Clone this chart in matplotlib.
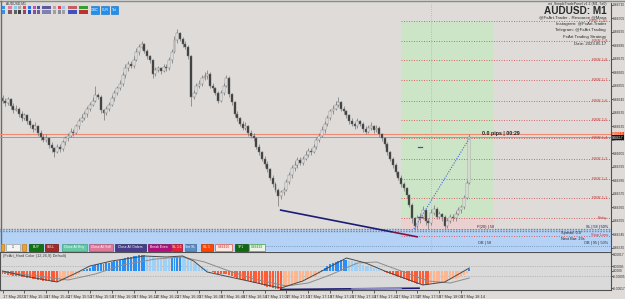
import matplotlib
matplotlib.use("Agg")
import matplotlib.pyplot as plt
from matplotlib.patches import Rectangle

plt.rcParams['font.family'] = ['Liberation Sans', 'DejaVu Sans']

W, H, DPI = 625, 299, 100

# ---------------- data (AUDUSD M1) ----------------
opens = [
 0.66646, 0.66644, 0.66642, 0.66645, 0.66640, 0.66637, 0.66638, 0.66634, 0.66631, 0.66633,
 0.66629, 0.66626, 0.66623, 0.66625, 0.66620, 0.66617, 0.66615, 0.66616, 0.66611, 0.66609,
 0.66606, 0.66610, 0.66608, 0.66613, 0.66616, 0.66618, 0.66621, 0.66620, 0.66625, 0.66629,
 0.66631, 0.66634, 0.66638, 0.66641, 0.66644, 0.66648, 0.66647, 0.66637, 0.66635, 0.66638,
 0.66641, 0.66646, 0.66650, 0.66653, 0.66656, 0.66663, 0.66668, 0.66671, 0.66670, 0.66674,
 0.66680, 0.66684, 0.66686, 0.66681, 0.66677, 0.66674, 0.66664, 0.66667, 0.66668, 0.66666,
 0.66669, 0.66668, 0.66674, 0.66680, 0.66689, 0.66694, 0.66690, 0.66686, 0.66684, 0.66677,
 0.66647, 0.66650, 0.66655, 0.66656, 0.66661, 0.66662, 0.66664, 0.66655, 0.66653, 0.66650,
 0.66644, 0.66650, 0.66655, 0.66661, 0.66649, 0.66643, 0.66634, 0.66631, 0.66627, 0.66624,
 0.66625, 0.66620, 0.66618, 0.66616, 0.66610, 0.66606, 0.66601, 0.66597, 0.66593, 0.66587,
 0.66582, 0.66578, 0.66573, 0.66576, 0.66578, 0.66584, 0.66589, 0.66594, 0.66596, 0.66600,
 0.66598, 0.66601, 0.66604, 0.66607, 0.66606, 0.66610, 0.66615, 0.66618, 0.66622, 0.66627,
 0.66631, 0.66636, 0.66638, 0.66641, 0.66643, 0.66638, 0.66636, 0.66633, 0.66629, 0.66627,
 0.66625, 0.66629, 0.66627, 0.66623, 0.66621, 0.66624, 0.66625, 0.66622, 0.66624, 0.66619,
 0.66616, 0.66612, 0.66606, 0.66601, 0.66596, 0.66591, 0.66587, 0.66582, 0.66579, 0.66574,
 0.66567, 0.66557, 0.66551, 0.66557, 0.66558, 0.66563, 0.66555, 0.66553, 0.66561, 0.66564,
 0.66558, 0.66560, 0.66558, 0.66551, 0.66555, 0.66558, 0.66557, 0.66560, 0.66563, 0.66565,
 0.66572, 0.66583]

closes = [
 0.66644, 0.66642, 0.66645, 0.66640, 0.66637, 0.66638, 0.66634, 0.66631, 0.66633, 0.66629,
 0.66626, 0.66623, 0.66625, 0.66620, 0.66617, 0.66615, 0.66616, 0.66611, 0.66609, 0.66606,
 0.66610, 0.66608, 0.66613, 0.66616, 0.66618, 0.66621, 0.66620, 0.66625, 0.66629, 0.66631,
 0.66634, 0.66638, 0.66641, 0.66644, 0.66648, 0.66647, 0.66637, 0.66635, 0.66638, 0.66641,
 0.66646, 0.66650, 0.66653, 0.66656, 0.66663, 0.66668, 0.66671, 0.66670, 0.66674, 0.66680,
 0.66684, 0.66686, 0.66681, 0.66677, 0.66674, 0.66664, 0.66667, 0.66668, 0.66666, 0.66669,
 0.66668, 0.66674, 0.66680, 0.66689, 0.66694, 0.66690, 0.66686, 0.66684, 0.66677, 0.66647,
 0.66650, 0.66655, 0.66656, 0.66661, 0.66662, 0.66664, 0.66655, 0.66653, 0.66650, 0.66644,
 0.66650, 0.66655, 0.66661, 0.66649, 0.66643, 0.66634, 0.66631, 0.66627, 0.66624, 0.66625,
 0.66620, 0.66618, 0.66616, 0.66610, 0.66606, 0.66601, 0.66597, 0.66593, 0.66587, 0.66582,
 0.66578, 0.66573, 0.66576, 0.66578, 0.66584, 0.66589, 0.66594, 0.66596, 0.66600, 0.66598,
 0.66601, 0.66604, 0.66607, 0.66606, 0.66610, 0.66615, 0.66618, 0.66622, 0.66627, 0.66631,
 0.66636, 0.66638, 0.66641, 0.66643, 0.66638, 0.66636, 0.66633, 0.66629, 0.66627, 0.66625,
 0.66629, 0.66627, 0.66623, 0.66621, 0.66624, 0.66625, 0.66622, 0.66624, 0.66619, 0.66616,
 0.66612, 0.66606, 0.66601, 0.66596, 0.66591, 0.66587, 0.66582, 0.66579, 0.66574, 0.66567,
 0.66557, 0.66551, 0.66557, 0.66558, 0.66563, 0.66555, 0.66553, 0.66561, 0.66564, 0.66558,
 0.66560, 0.66558, 0.66551, 0.66555, 0.66558, 0.66557, 0.66560, 0.66563, 0.66565, 0.66572,
 0.66583, 0.66617]

highs = [
 0.66648, 0.66646, 0.66647, 0.66646, 0.66642, 0.66641, 0.66639, 0.66636, 0.66635, 0.66634,
 0.66631, 0.66627, 0.66628, 0.66626, 0.66622, 0.66619, 0.66619, 0.66617, 0.66613, 0.66610,
 0.66612, 0.66612, 0.66615, 0.66618, 0.66620, 0.66624, 0.66623, 0.66627, 0.66631, 0.66634,
 0.66636, 0.66640, 0.66643, 0.66647, 0.66655, 0.66650, 0.66648, 0.66638, 0.66640, 0.66643,
 0.66648, 0.66652, 0.66655, 0.66659, 0.66665, 0.66671, 0.66673, 0.66673, 0.66677, 0.66683,
 0.66686, 0.66688, 0.66687, 0.66682, 0.66678, 0.66675, 0.66669, 0.66670, 0.66669, 0.66671,
 0.66671, 0.66676, 0.66682, 0.66692, 0.66697, 0.66695, 0.66691, 0.66688, 0.66685, 0.66678,
 0.66652, 0.66657, 0.66659, 0.66663, 0.66665, 0.66667, 0.66665, 0.66657, 0.66654, 0.66651,
 0.66652, 0.66657, 0.66663, 0.66662, 0.66650, 0.66644, 0.66636, 0.66632, 0.66629, 0.66628,
 0.66626, 0.66622, 0.66620, 0.66617, 0.66612, 0.66607, 0.66603, 0.66599, 0.66594, 0.66589,
 0.66584, 0.66579, 0.66578, 0.66580, 0.66586, 0.66591, 0.66596, 0.66599, 0.66602, 0.66602,
 0.66603, 0.66607, 0.66609, 0.66609, 0.66612, 0.66617, 0.66620, 0.66625, 0.66629, 0.66633,
 0.66638, 0.66641, 0.66644, 0.66647, 0.66644, 0.66640, 0.66637, 0.66634, 0.66631, 0.66628,
 0.66631, 0.66630, 0.66628, 0.66625, 0.66626, 0.66628, 0.66626, 0.66626, 0.66625, 0.66620,
 0.66617, 0.66613, 0.66607, 0.66602, 0.66598, 0.66592, 0.66589, 0.66584, 0.66580, 0.66575,
 0.66568, 0.66558, 0.66559, 0.66561, 0.66566, 0.66564, 0.66557, 0.66564, 0.66567, 0.66565,
 0.66562, 0.66561, 0.66559, 0.66557, 0.66560, 0.66560, 0.66562, 0.66565, 0.66567, 0.66574,
 0.66585, 0.66619]

lows = [
 0.66642, 0.66640, 0.66641, 0.66638, 0.66635, 0.66636, 0.66632, 0.66629, 0.66630, 0.66627,
 0.66624, 0.66621, 0.66622, 0.66618, 0.66615, 0.66613, 0.66613, 0.66609, 0.66606, 0.66602,
 0.66605, 0.66606, 0.66607, 0.66611, 0.66614, 0.66617, 0.66618, 0.66619, 0.66623, 0.66628,
 0.66630, 0.66632, 0.66636, 0.66640, 0.66643, 0.66645, 0.66635, 0.66630, 0.66633, 0.66636,
 0.66640, 0.66644, 0.66648, 0.66652, 0.66655, 0.66661, 0.66666, 0.66668, 0.66668, 0.66673,
 0.66678, 0.66682, 0.66679, 0.66675, 0.66672, 0.66661, 0.66662, 0.66665, 0.66664, 0.66665,
 0.66666, 0.66667, 0.66672, 0.66679, 0.66687, 0.66688, 0.66684, 0.66682, 0.66675, 0.66640,
 0.66645, 0.66649, 0.66653, 0.66655, 0.66659, 0.66660, 0.66653, 0.66651, 0.66648, 0.66642,
 0.66643, 0.66648, 0.66654, 0.66647, 0.66641, 0.66632, 0.66629, 0.66625, 0.66622, 0.66622,
 0.66618, 0.66616, 0.66614, 0.66608, 0.66604, 0.66599, 0.66595, 0.66591, 0.66585, 0.66580,
 0.66576, 0.66566, 0.66571, 0.66574, 0.66577, 0.66582, 0.66587, 0.66592, 0.66594, 0.66596,
 0.66596, 0.66600, 0.66602, 0.66604, 0.66605, 0.66608, 0.66613, 0.66617, 0.66620, 0.66625,
 0.66630, 0.66634, 0.66637, 0.66639, 0.66636, 0.66634, 0.66631, 0.66627, 0.66625, 0.66623,
 0.66624, 0.66625, 0.66621, 0.66619, 0.66620, 0.66622, 0.66620, 0.66621, 0.66617, 0.66614,
 0.66610, 0.66604, 0.66599, 0.66594, 0.66589, 0.66585, 0.66580, 0.66577, 0.66572, 0.66565,
 0.66553, 0.66548, 0.66549, 0.66553, 0.66556, 0.66552, 0.66549, 0.66552, 0.66559, 0.66556,
 0.66556, 0.66555, 0.66549, 0.66550, 0.66553, 0.66555, 0.66555, 0.66559, 0.66561, 0.66564,
 0.66571, 0.66582]

# MACD-style histogram (FxArt Hard Color 12,26,9)
hist = [
 -0.00003, -0.00003, -0.00004, -0.00004, -0.00005, -0.00005, -0.00005, -0.00006, -0.00006, -0.00007,
 -0.00007, -0.00008, -0.00008, -0.00009, -0.00009, -0.00010, -0.00010, -0.00010, -0.00011, -0.00011,
 -0.00011, -0.00010, -0.00010, -0.00009, -0.00008, -0.00007, -0.00006, -0.00004, -0.00003, -0.00001,
 0.00001, 0.00002, 0.00003, 0.00005, 0.00006, 0.00007, 0.00007, 0.00007, 0.00008, 0.00008,
 0.00009, 0.00010, 0.00010, 0.00011, 0.00012, 0.00013, 0.00014, 0.00014, 0.00015, 0.00015,
 0.00016, 0.00016, 0.00016, 0.00015, 0.00015, 0.00014, 0.00013, 0.00013, 0.00012, 0.00012,
 0.00012, 0.00012, 0.00013, 0.00013, 0.00014, 0.00014, 0.00013, 0.00013, 0.00012, 0.00010,
 0.00008, 0.00007, 0.00005, 0.00004, 0.00003, 0.00002, 0.00000, -0.00001, -0.00002, -0.00003,
 -0.00003, -0.00003, -0.00003, -0.00004, -0.00005, -0.00006, -0.00007, -0.00008, -0.00009, -0.00009,
 -0.00010, -0.00011, -0.00012, -0.00012, -0.00013, -0.00014, -0.00015, -0.00016, -0.00016, -0.00017,
 -0.00018, -0.00018, -0.00018, -0.00017, -0.00016, -0.00015, -0.00014, -0.00013, -0.00012, -0.00011,
 -0.00010, -0.00009, -0.00008, -0.00007, -0.00006, -0.00005, -0.00003, 0.00001, 0.00003, 0.00005,
 0.00007, 0.00008, 0.00009, 0.00010, 0.00011, 0.00011, 0.00011, 0.00010, 0.00010, 0.00009,
 0.00008, 0.00007, 0.00006, 0.00005, 0.00004, 0.00004, 0.00003, 0.00002, 0.00001, 0.00000,
 -0.00001, -0.00002, -0.00003, -0.00004, -0.00005, -0.00006, -0.00007, -0.00008, -0.00009, -0.00010,
 -0.00011, -0.00012, -0.00013, -0.00013, -0.00014, -0.00014, -0.00014, -0.00013, -0.00013, -0.00012,
 -0.00012, -0.00011, -0.00011, -0.00010, -0.00009, -0.00008, -0.00008, -0.00007, -0.00006, -0.00004,
 -0.00002, 0.00002]

line_a_idx = [0, 8, 20, 27, 32, 40, 52, 60, 66, 70, 75, 85, 95, 102, 110, 117, 126, 133, 140, 148, 154, 162, 171]
line_a_val = [0.0, -0.00005, -0.00011, -0.00002, 0.00005, 0.00010, 0.00015, 0.00014, 0.00015, 0.00010,
              -0.00001, -0.00007, -0.00013, -0.00017, -0.00010, 0.0, 0.00013, 0.00008, 0.0, -0.00008,
              -0.00014, -0.00011, 0.00003]
line_b_idx = [0, 10, 24, 34, 44, 56, 66, 74, 82, 92, 104, 112, 120, 130, 137, 146, 156, 164, 171]
line_b_val = [-0.00001, -0.00004, -0.00009, -0.00003, 0.00006, 0.00012, 0.00014, 0.00009, 0.00001, -0.00008,
              -0.00015, -0.00012, -0.00004, 0.00008, 0.00009, 0.0, -0.00010, -0.00012, -0.00007]
div_idx = [101.6, 152.9]
div_val = [-0.000185, -0.000172]

price_ticks = [0.66715, 0.66705, 0.66695, 0.66685, 0.66675, 0.66665, 0.66655, 0.66645, 0.66635, 0.66625,
               0.66615, 0.66605, 0.66595, 0.66585, 0.66575, 0.66565, 0.66555, 0.66545, 0.66535]
ind_ticks = [0.00017, 0.00005, 0.0, -0.00005, -0.00017]
ind_tick_labels = ['0.00017', '0.00005', '0.0000', '-0.00005', '-0.00017']

time_tick_idx = [0, 8, 16, 24, 32, 40, 48, 56, 64, 72, 80, 88, 96, 104, 112, 120, 128, 136, 144, 152, 160, 168]
time_labels = ['17 May 2023', '17 May 15:34', '17 May 15:42', '17 May 15:50', '17 May 15:58', '17 May 16:06',
               '17 May 16:14', '17 May 16:22', '17 May 16:30', '17 May 16:38', '17 May 16:46', '17 May 16:54',
               '17 May 17:02', '17 May 17:10', '17 May 17:18', '17 May 17:26', '17 May 17:34', '17 May 17:42',
               '17 May 17:50', '17 May 17:58', '17 May 18:06', '17 May 18:14']

ask, bid = 0.66619, 0.66617
box_start, box_end, box_mid = 146, 180, 157
sl_price, entry_price, tp_price = 0.66549, 0.66557, 0.66703
rr_levels = [0.66557, 0.66572, 0.66586, 0.66601, 0.66616, 0.66630, 0.66644, 0.66659, 0.66674, 0.66688, 0.66703]
rr_labels = ['Entry', 'RRR 1:1', 'RRR 1:2', 'RRR 1:3', 'RRR 1:4', 'RRR 1:5', 'RRR 1:6', 'RRR 1:7', 'RRR 1:8',
             'RRR 1:9', 'RRR 1:10']
trend_idx = [101.6, 143, 152.2]
trend_price = [0.66563, 0.665466, 0.66543]
proj_idx = [150.7, 171]
proj_price = [0.66549, 0.66616]
sl_line_price = 0.665437

XMIN, XMAX = -0.916, 222.9
P_BOT, P_TOP = 0.665326, 0.667163


def frac(x0, y0, x1, y1):
    return [x0 / W, 1 - y1 / H, (x1 - x0) / W, (y1 - y0) / H]


fig = plt.figure(figsize=(W / DPI, H / DPI), dpi=DPI)
fig.patch.set_facecolor('#dedbd8')

# ---------- background layer (pixel coords) ----------
bg = fig.add_axes([0, 0, 1, 1], zorder=0)
bg.set_xlim(0, W); bg.set_ylim(H, 0); bg.axis('off')
bg.add_patch(Rectangle((0, 229), 611, 22, color='#b3d2f5', lw=0))
bg.plot([0, 611], [229.4, 229.4], color='#7c838c', lw=1.0, ls=(0, (1, 1)))
bg.plot([0, 611], [231.4, 231.4], color='#7c838c', lw=1.0, ls=(0, (1, 1)))
bg.plot([0, 625], [1.0, 1.0], color='#8a8a8a', lw=1.0)
bg.plot([0.5, 0.5], [1, 290], color='#6a6a6a', lw=1.0)

# ---------- main price chart ----------
ax = fig.add_axes(frac(0, 3, 611, 251), zorder=2)
ax.patch.set_alpha(0)
ax.set_xlim(XMIN, XMAX)
ax.set_ylim(P_BOT, P_TOP)

ax.add_patch(Rectangle((box_start, entry_price), box_end - box_start, tp_price - entry_price,
                       color='#cde5c7', lw=0, zorder=1))
ax.add_patch(Rectangle((box_start, sl_price), box_end - box_start, entry_price - sl_price,
                       color='#ead0cf', lw=0, zorder=1))
ax.axvline(box_mid, color='#9cc49a', lw=0.6, ls=(0, (1, 1.5)), zorder=1.5)

ax.hlines(rr_levels, box_start, XMAX, colors='#d25a5a', lw=0.6, linestyles=(0, (1.2, 1.8)), zorder=2)
for lv, lb in zip(rr_levels, rr_labels):
    ax.text(221.4, lv, lb, ha='right', va='center', fontsize=2.9, color='#c83c3c', zorder=6)
ax.hlines([sl_line_price], box_start, XMAX, colors='#d25a5a', lw=0.6, linestyles=(0, (1.2, 1.8)), zorder=2)
ax.hlines([0.665363], 96.2, XMAX, colors='#7088b0', lw=0.6, linestyles=(0, (1, 1.5)), zorder=2)

ax.axhline(ask, color='#f28a72', lw=0.8, zorder=2.5)
ax.axhline(bid, color='#9c9c9c', lw=0.7, zorder=2.5)

idx = list(range(len(closes)))
ax.vlines(idx, lows, highs, color='#7e7e7e', lw=0.55, zorder=3)
heights = [c - o if abs(c - o) > 1e-9 else 0.000003 for o, c in zip(opens, closes)]
body_cols = ['#f7f7f7' if c >= o else '#333333' for o, c in zip(opens, closes)]
ax.bar(idx, heights, bottom=opens, width=0.72, color=body_cols, edgecolor='#777777', lw=0.35, zorder=4)

ax.plot(trend_idx[:2], trend_price[:2], color='#1c1c78', lw=1.2, zorder=5, solid_capstyle='butt')
ax.plot(trend_idx[1:], trend_price[1:], color='#8a1048', lw=1.2, zorder=5, solid_capstyle='butt')
ax.plot(proj_idx, proj_price, color='#4a66e0', lw=0.8, ls=(0, (1, 1.3)), zorder=5)
ax.plot([152.3, 153.7], [0.66558, 0.66558], color='#3050d0', lw=0.9, zorder=5)
ax.plot([152.3, 153.7], [0.66610, 0.66610], color='#3050d0', lw=0.9, zorder=5)

ax.text(175.5, 0.666200, '0.0 pips | 00:29', fontsize=3.8, fontweight='bold', color='#202020',
        ha='left', va='center', zorder=6)

ax.yaxis.tick_right()
ax.set_yticks(price_ticks)
ax.set_yticklabels([f'{p:.5f}' for p in price_ticks])
ax.tick_params(axis='y', labelsize=2.45, length=1.2, width=0.5, pad=0.4, colors='#303030')
ax.set_xticks([])
for s in ['top', 'left', 'bottom']:
    ax.spines[s].set_visible(False)
ax.spines['right'].set_color('#505050'); ax.spines['right'].set_linewidth(0.8)

ytr = ax.get_yaxis_transform()
ax.text(1.002, ask + 0.000001, f'{ask:.5f}', transform=ytr, fontsize=2.35, color='white', ha='left', va='center',
        clip_on=False, zorder=7, bbox=dict(boxstyle='square,pad=0.2', fc='#f0501e', ec='none'))
ax.text(1.002, bid - 0.0000045, f'{bid:.5f}', transform=ytr, fontsize=2.35, color='white', ha='left', va='center',
        clip_on=False, zorder=7, bbox=dict(boxstyle='square,pad=0.2', fc='#111111', ec='none'))

# ---------- indicator panel ----------
ind = fig.add_axes(frac(0, 252, 611, 290), zorder=2)
ind.set_facecolor('#dadada')
ind.set_xlim(XMIN, XMAX)
ind.set_ylim(-0.00019, 0.00019)
cols = []
prev_col = None
for i, h in enumerate(hist):
    p = hist[i - 1] if i > 0 else h
    if h >= 0:
        if h > p: c = '#2b8ef2'
        elif h < p: c = '#9ed0f8'
        else: c = prev_col if prev_col in ('#2b8ef2', '#9ed0f8') else '#2b8ef2'
    else:
        if h < p: c = '#ff5b36'
        elif h > p: c = '#ffb590'
        else: c = prev_col if prev_col in ('#ff5b36', '#ffb590') else '#ff5b36'
    cols.append(c); prev_col = c
ind.bar(idx, hist, width=0.72, color=cols, lw=0, zorder=2)
ind.axhline(0.00005, color='#9a9a9a', lw=0.5, ls=(0, (1, 1.5)), zorder=1)
ind.axhline(-0.00005, color='#9a9a9a', lw=0.5, ls=(0, (1, 1.5)), zorder=1)
ind.plot(line_b_idx, line_b_val, color='#8c8c8c', lw=0.7, zorder=3)
ind.plot(line_a_idx, line_a_val, color='#4a4a4a', lw=0.7, zorder=3)
ind.plot(div_idx, div_val, color='#1c1c78', lw=1.2, zorder=4, solid_capstyle='butt')
ind.plot([128, 146], [-0.0001785, -0.0001735], color='#8c8cc8', lw=1.0, zorder=4)
ind.text(0.005, 0.96, '(FxArt_Hard Color (12,26,9) Default)', transform=ind.transAxes, fontsize=2.8,
         color='#404040', va='top', ha='left')
ind.yaxis.tick_right()
ind.set_yticks(ind_ticks)
ind.set_yticklabels(ind_tick_labels)
ind.tick_params(axis='y', labelsize=2.3, length=1.2, width=0.5, pad=0.4, colors='#303030')
ind.set_xticks(time_tick_idx)
ind.set_xticklabels(time_labels, ha='left')
ind.tick_params(axis='x', labelsize=2.75, length=2.5, width=0.5, pad=0.8, colors='#303030')
for s in ind.spines.values():
    s.set_color('#505050'); s.set_linewidth(0.8)

# ---------- overlay (pixel coords): panel, buttons, captions ----------
ov = fig.add_axes([0, 0, 1, 1], zorder=6)
ov.set_xlim(0, W); ov.set_ylim(H, 0); ov.axis('off'); ov.patch.set_alpha(0)

buttons = [
    (1, 4, '#f0a030', '#c08020', '', 'w'),
    (6, 20, '#f4f4f4', '#a0a0a0', '1', '#202020'),
    (22, 26, '#f0a030', '#c08020', '', 'w'),
    (29, 43, '#137313', '#0a4a0a', 'BUY', 'w'),
    (44.5, 58, '#a52a2a', '#701010', 'SELL', 'w'),
    (62, 87, '#66c9a6', '#40a080', 'Close All Buy', 'w'),
    (89, 113, '#e0789a', '#b05070', 'Close All Sell', 'w'),
    (115, 146, '#483d8b', '#302860', 'Close All Orders', 'w'),
    (148, 170.5, '#b0107a', '#800a58', 'Break Even', 'w'),
    (171.5, 182, '#e8203c', '#a01020', 'SL 1:1', 'w'),
    (184.5, 196, '#5b8cc4', '#3a6a9a', 'Set SL', 'w'),
    (200.5, 212.5, '#ff4500', '#c03000', 'SL 1', 'w'),
    (215, 232, '#fbe9e0', '#e05050', '0.66410', '#c03030'),
    (234.5, 248, '#0f6a0f', '#0a4a0a', 'TP1', 'w'),
    (249, 265, '#eaf4e6', '#40a040', '0.66419', '#308030'),
]
for x0, x1, fc, ec, t, tc in buttons:
    ov.add_patch(Rectangle((x0, 244), x1 - x0, 6.5, fc=fc, ec=ec, lw=0.5))
    if t:
        ov.text((x0 + x1) / 2, 247.4, t, fontsize=2.4, color=tc, ha='center', va='center')

ov.text(477, 226.8, 'P(20) | 58', fontsize=2.8, color='#303030', ha='left', va='center')
ov.text(608, 226.8, 'SL | 58 | 50%', fontsize=2.7, color='#202020', ha='right', va='center',
        bbox=dict(boxstyle='square,pad=0.15', fc='#d8d8e0', ec='none'))
ov.text(561, 233.0, 'Spread: 0.0', fontsize=2.8, color='#202020', ha='left', va='center')
ov.text(561, 239.0, 'Next Bar: 29s', fontsize=2.8, color='#202020', ha='left', va='center')
ov.text(608, 235.0, 'Stop Loss', fontsize=2.8, color='#d03030', ha='right', va='center')
ov.text(478, 243.0, 'OB | 58', fontsize=2.8, color='#303030', ha='left', va='center')
ov.text(608, 243.0, 'OB | 95 | 50%', fontsize=2.8, color='#303030', ha='right', va='center')

# top-right info block
ov.text(606, 3.6, 'mt_SimpleTradePanel v1.2 (M1, 5s0)', fontsize=2.5, color='#303030', ha='right', va='center')
ov.text(607, 10.6, 'AUDUSD: M1', fontsize=7.2, fontweight='bold', color='#2a2a2a', ha='right', va='center')
ov.text(606, 17.2, '@FxArt.Trader - Resource @Masa', fontsize=3.2, color='#303030', ha='right', va='center')
ov.text(606, 23.7, 'Instagram: @FxArt.Trader', fontsize=3.2, color='#303030', ha='right', va='center')
ov.text(606, 30.2, 'Telegram: @FxArt.Trading', fontsize=3.2, color='#303030', ha='right', va='center')
ov.text(606, 36.6, 'FxArt Trading Strategy', fontsize=3.2, color='#303030', ha='right', va='center')
ov.text(606, 44.4, 'Date: 2023.05.17', fontsize=3.1, color='#303030', ha='right', va='center')

# top-left toolbar
ov.text(6, 3.4, 'AUDUSD,M1', fontsize=2.4, color='#303030', ha='left', va='center')
icons = [
    (2, 5, '#3b8fe0', '#3b8fe0'), (8, 12, '#e07aa8', '#7a5a5a'), (13.5, 17, '#8ac8f0', '#606060'),
    (17.5, 21, '#a8a8a8', '#404040'), (22.5, 26, '#e04060', '#a04060'), (27.5, 31, '#3070e0', '#2050c0'),
    (32.5, 36, '#c050c0', '#8050a0'), (37, 40, '#5050a0', '#706090'), (42, 51, '#5a5a9a', '#8080b0'),
    (52.5, 56, '#c0a0a0', '#a0a0a0'), (57.5, 61, '#e04050', '#8090a0'), (62, 65, '#a0c0e0', '#a0a0a0'),
    (68, 77, '#c06060', '#4050c0'), (79, 88, '#30a030', '#c03030'),
]
for x0, x1, c1, c2 in icons:
    ov.add_patch(Rectangle((x0, 5.5), x1 - x0, 3.8, fc=c1, ec='none'))
    ov.add_patch(Rectangle((x0, 9.8), x1 - x0, 3.8, fc=c2, ec='none'))
for x0, x1, t in [(91, 99, 'OMC'), (101, 109, 'CLR'), (111, 118, 'Txt')]:
    ov.add_patch(Rectangle((x0, 5.5), x1 - x0, 8, fc='#2090f0', ec='#1070c0', lw=0.4))
    ov.text((x0 + x1) / 2, 9.6, t, fontsize=2.5, color='white', ha='center', va='center')

fig.savefig('out.png', dpi=DPI)
